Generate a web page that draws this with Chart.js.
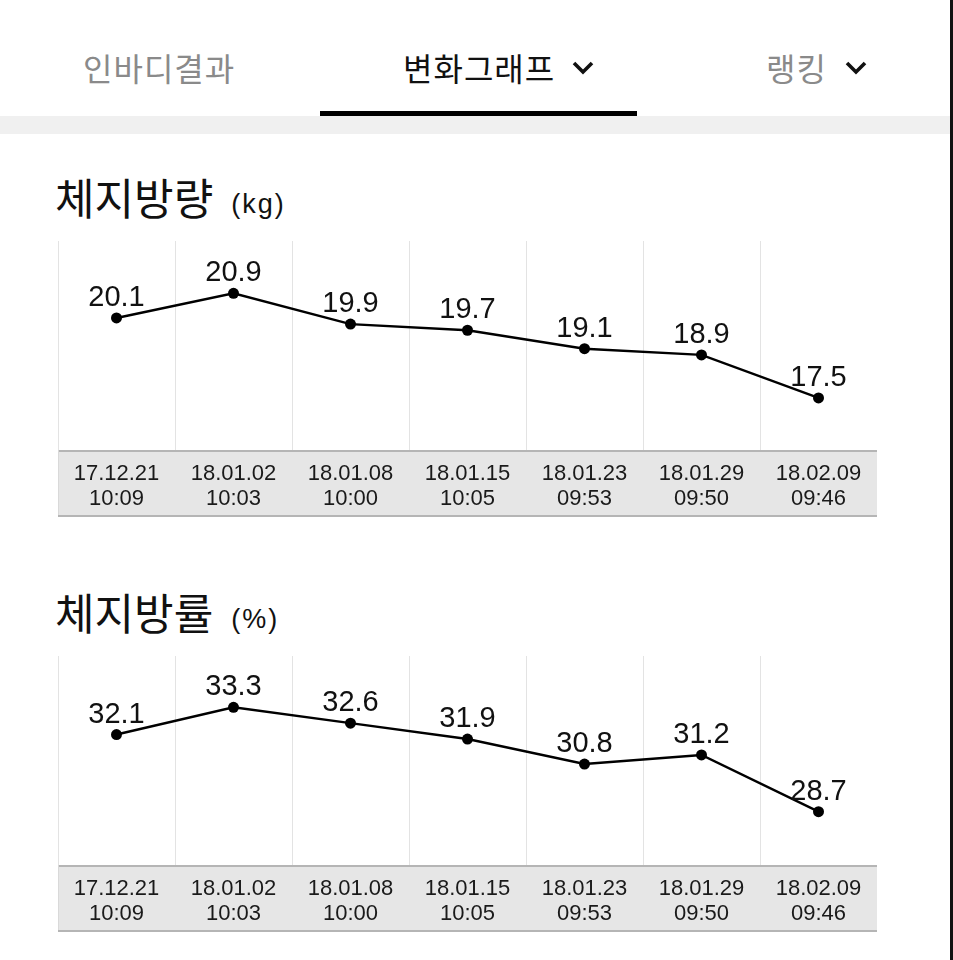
<!DOCTYPE html>
<html>
<head>
<meta charset="utf-8">
<script src="https://cdn.jsdelivr.net/npm/chart.js@4"></script>
<style>
body { margin: 0; width: 953px; height: 960px; overflow: hidden; position: relative; background: #fff; font-family: "Noto Sans CJK KR", sans-serif; }
.tab { position: absolute; top: 45px; font-size: 32px; letter-spacing: 1px; line-height: 44px; color: #8a8a8a; white-space: nowrap; }
.tab.on { color: #111; }
.tab svg { position: absolute; top: 16px; }
#underline { position: absolute; left: 320px; top: 111px; width: 317px; height: 5px; background: #000; }
#band { position: absolute; left: 0; top: 116px; width: 951px; height: 18px; background: #f0f0f0; }
#edge { position: absolute; left: 950px; top: 0; width: 3px; height: 960px; background: #111; }
.title { position: absolute; left: 55px; font-size: 43px; line-height: 50px; color: #111; white-space: nowrap; }
.title small { font-family: "Liberation Sans", Arial, sans-serif; font-size: 27px; letter-spacing: 2px; margin-left: 18px; position: relative; top: -2px; }
.box { position: absolute; left: 58px; width: 819px; height: 276px; }
</style>
</head>
<body>
<div class="tab" style="left:83px">인바디결과</div>
<div class="tab on" style="left:403px">변화그래프<svg style="left:169px" width="22" height="14" viewBox="0 0 22 14"><polyline points="2,2 11,11 20,2" fill="none" stroke="#111" stroke-width="3.6"/></svg></div>
<div class="tab" style="left:766px">랭킹<svg style="left:79px" width="22" height="14" viewBox="0 0 22 14"><polyline points="2,2 11,11 20,2" fill="none" stroke="#111" stroke-width="3.6"/></svg></div>
<div id="underline"></div>
<div id="band"></div>
<div id="edge"></div>

<div class="title" style="top:171px">체지방량<small>(kg)</small></div>
<div class="box" style="top:241px"><canvas id="massChart" width="819" height="276"></canvas></div>

<div class="title" style="top:586px">체지방률<small>(%)</small></div>
<div class="box" style="top:656px"><canvas id="rateChart" width="819" height="276"></canvas></div>

<script>
// measurement dates (date / time)
const dates = [
    ['17.12.21', '10:09'],
    ['18.01.02', '10:03'],
    ['18.01.08', '10:00'],
    ['18.01.15', '10:05'],
    ['18.01.23', '09:53'],
    ['18.01.29', '09:50'],
    ['18.02.09', '09:46']
];
const fatMass = [20.1, 20.9, 19.9, 19.7, 19.1, 18.9, 17.5];
const fatRate = [32.1, 33.3, 32.6, 31.9, 30.8, 31.2, 28.7];
const fatMassRange = [15.81, 22.6];
const fatRateRange = [26.35, 35.56];

// gray strip behind the date labels + left border
const stripPlugin = {
    id: 'strip',
    beforeDraw(chart) {
        const ctx = chart.ctx;
        const a = chart.chartArea;
        const h = chart.height;
        ctx.save();
        ctx.fillStyle = '#e6e6e6';
        ctx.fillRect(a.left, a.bottom, a.right - a.left, h - a.bottom);
        ctx.strokeStyle = '#b5b5b5';
        ctx.lineWidth = 2;
        ctx.beginPath();
        ctx.moveTo(a.left, a.bottom + 1);
        ctx.lineTo(a.right, a.bottom + 1);
        ctx.moveTo(a.left, h - 1);
        ctx.lineTo(a.right, h - 1);
        ctx.stroke();
        ctx.strokeStyle = '#d9d9d9';
        ctx.lineWidth = 1;
        ctx.beginPath();
        ctx.moveTo(a.left + 0.5, 0);
        ctx.lineTo(a.left + 0.5, h - 2);
        ctx.stroke();
        ctx.restore();
    }
};

// value above each point
const valuePlugin = {
    id: 'values',
    afterDatasetsDraw(chart) {
        const ctx = chart.ctx;
        const meta = chart.getDatasetMeta(0);
        const data = chart.data.datasets[0].data;
        ctx.save();
        ctx.font = '29px "Liberation Sans", Arial, sans-serif';
        ctx.fillStyle = '#111';
        ctx.textAlign = 'center';
        ctx.textBaseline = 'alphabetic';
        meta.data.forEach(function(pt, i) {
            ctx.fillText(data[i].toFixed(1), pt.x, pt.y - 12);
        });
        ctx.restore();
    }
};

function makeChart(id, values, range) {
    return new Chart(document.getElementById(id), {
        type: 'line',
        data: {
            labels: dates,
            datasets: [{
                data: values,
                borderColor: '#000',
                borderWidth: 2.4,
                tension: 0,
                pointRadius: 5.5,
                pointBackgroundColor: '#000',
                pointBorderWidth: 0
            }]
        },
        options: {
            responsive: false,
            animation: false,
            devicePixelRatio: 1,
            layout: { padding: 0, autoPadding: false },
            plugins: { legend: { display: false }, tooltip: { enabled: false } },
            scales: {
                x: {
                    offset: true,
                    border: { display: false },
                    grid: {
                        offset: true,
                        drawTicks: false,
                        color: c => c.type === 'tick' ? '#e3e3e3' : 'rgba(0,0,0,0)'
                    },
                    ticks: {
                        padding: 11,
                        color: '#1a1a1a',
                        maxRotation: 0,
                        autoSkip: false,
                        font: { family: '"Liberation Sans", Arial, sans-serif', size: 22, lineHeight: 1.14 }
                    },
                    afterFit: s => { s.height = 67; s.paddingLeft = 0; s.paddingRight = 0; }
                },
                y: {
                    display: false,
                    min: range[0],
                    max: range[1]
                }
            }
        },
        plugins: [stripPlugin, valuePlugin]
    });
}

makeChart('massChart', fatMass, fatMassRange);
makeChart('rateChart', fatRate, fatRateRange);
</script>
</body>
</html>
